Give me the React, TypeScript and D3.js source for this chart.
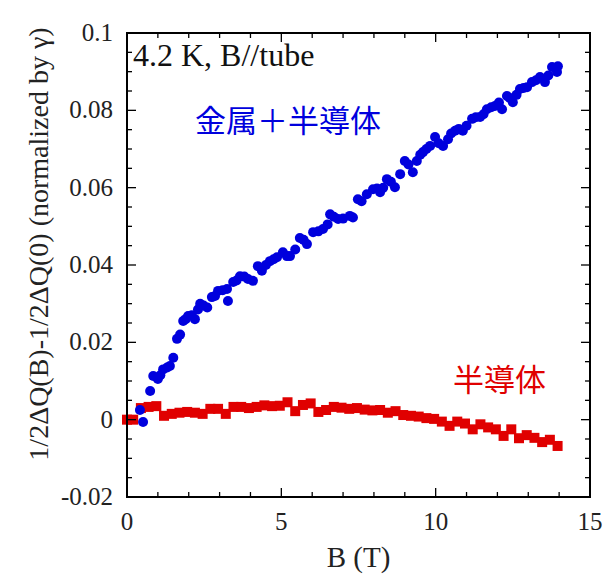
import React from "react";
import * as d3 from "d3";

const redX = [0, 0.2, 0.45, 0.7, 0.95, 1.2, 1.45, 1.7, 1.95, 2.2, 2.45, 2.7, 2.95, 3.2, 3.45, 3.7, 3.95, 4.2, 4.45, 4.7, 4.95, 5.2, 5.45, 5.7, 5.95, 6.2, 6.45, 6.7, 6.95, 7.2, 7.45, 7.7, 7.95, 8.2, 8.45, 8.7, 8.95, 9.2, 9.45, 9.7, 9.95, 10.2, 10.45, 10.7, 10.95, 11.2, 11.45, 11.7, 11.95, 12.2, 12.45, 12.7, 12.95, 13.2, 13.45, 13.7, 13.95];
const redY = [0, 0, 0.003, 0.0033, 0.0035, 0.001, 0.0015, 0.0018, 0.002, 0.0018, 0.0015, 0.0028, 0.0028, 0.0015, 0.0033, 0.0033, 0.003, 0.0033, 0.0037, 0.0035, 0.0036, 0.0045, 0.0022, 0.0038, 0.0042, 0.002, 0.0025, 0.0033, 0.0031, 0.0028, 0.003, 0.0026, 0.0024, 0.0025, 0.0018, 0.0022, 0.0012, 0.001, 0.0008, 0.0004, 0.0002, -0.0005, -0.0016, -0.0005, -0.001, -0.0025, -0.0012, -0.002, -0.0025, -0.0042, -0.0025, -0.0048, -0.004, -0.0047, -0.0058, -0.0052, -0.0068];

const blueX = [0.42, 0.52, 0.75, 0.85, 1.0, 1.08, 1.17, 1.3, 1.39, 1.5, 1.62, 1.72, 1.82, 1.9, 1.98, 2.1, 2.2, 2.3, 2.37, 2.48, 2.6, 2.75, 2.85, 2.95, 3.1, 3.24, 3.27, 3.44, 3.55, 3.66, 3.8, 3.92, 4.08, 4.24, 4.37, 4.5, 4.63, 4.75, 4.86, 5.05, 5.18, 5.28, 5.45, 5.6, 5.72, 5.83, 6.03, 6.2, 6.35, 6.5, 6.58, 6.7, 6.84, 7.0, 7.22, 7.32, 7.48, 7.6, 7.77, 7.97, 8.1, 8.2, 8.3, 8.42, 8.55, 8.68, 8.85, 9.0, 9.12, 9.26, 9.39, 9.5, 9.59, 9.7, 9.82, 9.98, 10.1, 10.24, 10.4, 10.5, 10.63, 10.75, 10.88, 11.0, 11.18, 11.3, 11.44, 11.55, 11.66, 11.8, 11.92, 12.05, 12.15, 12.31, 12.4, 12.5, 12.62, 12.73, 12.85, 12.96, 13.12, 13.25, 13.38, 13.54, 13.65, 13.77, 13.93, 13.96];
const blueY = [0.0025, -0.0006, 0.0074, 0.0113, 0.0105, 0.0115, 0.013, 0.0135, 0.0139, 0.016, 0.0209, 0.022, 0.0255, 0.026, 0.0268, 0.027, 0.026, 0.0285, 0.03, 0.0295, 0.029, 0.0317, 0.032, 0.0333, 0.0335, 0.0338, 0.0307, 0.0356, 0.036, 0.0371, 0.037, 0.0364, 0.0359, 0.0397, 0.0385, 0.04, 0.041, 0.0415, 0.042, 0.0433, 0.0423, 0.0423, 0.044, 0.047, 0.0465, 0.0454, 0.0485, 0.0487, 0.0493, 0.0505, 0.0531, 0.0525, 0.0519, 0.052, 0.0527, 0.0523, 0.057, 0.0565, 0.0583, 0.0596, 0.0598, 0.0588, 0.06, 0.0622, 0.0615, 0.0601, 0.0635, 0.0669, 0.066, 0.064, 0.0669, 0.0685, 0.0692, 0.07, 0.0708, 0.0731, 0.0715, 0.0708, 0.0725, 0.074, 0.0747, 0.0752, 0.0747, 0.076, 0.0778, 0.0782, 0.0783, 0.079, 0.0803, 0.0808, 0.0811, 0.082, 0.0803, 0.0837, 0.0832, 0.0821, 0.084, 0.0855, 0.0858, 0.086, 0.0873, 0.0878, 0.0886, 0.0873, 0.089, 0.0912, 0.0899, 0.0914];

const xTicks = [0, 5, 10, 15];
const yTicks = [-0.02, 0, 0.02, 0.04, 0.06, 0.08, 0.1];
const yTickLabels = ["-0.02", "0", "0.02", "0.04", "0.06", "0.08", "0.1"];

const W = 603, H = 575;
const L = 127, R = 590, T = 33, B = 497;

export default function App() {
  const x = d3.scaleLinear().domain([0, 15]).range([L, R]);
  const y = d3.scaleLinear().domain([-0.02, 0.1]).range([B, T]);
  const minorX = d3.range(0, 15.01, 1);
  const minorY = d3.range(-0.02, 0.1001, 0.005);
  const serif = "Liberation Serif";
  const cjk = "Noto Sans CJK JP";
  return (
    <svg width={W} height={H} style={{ position: "absolute", left: 0, top: 0, background: "#fff" }}>
      <rect x={0} y={0} width={W} height={H} fill="#fff" />
      {redX.map((v, i) => (
        <rect key={"r" + i} x={x(v) - 5} y={y(redY[i]) - 5} width={10} height={10} fill="#e00000" />
      ))}
      {blueX.map((v, i) => (
        <circle key={"b" + i} cx={x(v)} cy={y(blueY[i])} r={5} fill="#0000dd" />
      ))}
      <rect x={L} y={T} width={R - L} height={B - T} fill="none" stroke="#000" strokeWidth={2} />
      {minorX.map((v, i) => {
        const major = v % 5 === 0;
        const len = major ? 9 : 5;
        return (
          <g key={"tx" + i}>
            <line x1={x(v)} x2={x(v)} y1={B} y2={B - len} stroke="#000" strokeWidth={1.3} />
            <line x1={x(v)} x2={x(v)} y1={T} y2={T + len} stroke="#000" strokeWidth={1.3} />
          </g>
        );
      })}
      {minorY.map((v, i) => {
        const major = i % 4 === 0;
        const len = major ? 9 : 5;
        return (
          <g key={"ty" + i}>
            <line x1={L} x2={L + len} y1={y(v)} y2={y(v)} stroke="#000" strokeWidth={1.3} />
            <line x1={R} x2={R - len} y1={y(v)} y2={y(v)} stroke="#000" strokeWidth={1.3} />
          </g>
        );
      })}
      {xTicks.map((v) => (
        <text key={"xl" + v} x={x(v)} y={530} textAnchor="middle" fontFamily={serif} fontSize={25} fill="#222">{v}</text>
      ))}
      {yTicks.map((v, i) => (
        <text key={"yl" + i} x={113} y={y(v) + 8} textAnchor="end" fontFamily={serif} fontSize={25} fill="#222">{yTickLabels[i]}</text>
      ))}
      <text x={(L + R) / 2} y={567} textAnchor="middle" fontFamily={serif} fontSize={29} fill="#222">B (T)</text>
      <text transform={`translate(48, 244) rotate(-90)`} textAnchor="middle" fontFamily={serif} fontSize={28} fill="#222">1/2ΔQ(B)-1/2ΔQ(0) (normalized by γ)</text>
      <text x={133} y={66} fontFamily={serif} fontSize={32} fill="#111">4.2 K, B//tube</text>
      <text x={195} y={132} fontFamily={cjk} fontSize={31} fill="#0000dd">金属＋半導体</text>
      <text x={453} y={391} fontFamily={cjk} fontSize={31} fill="#e00000">半導体</text>
    </svg>
  );
}
